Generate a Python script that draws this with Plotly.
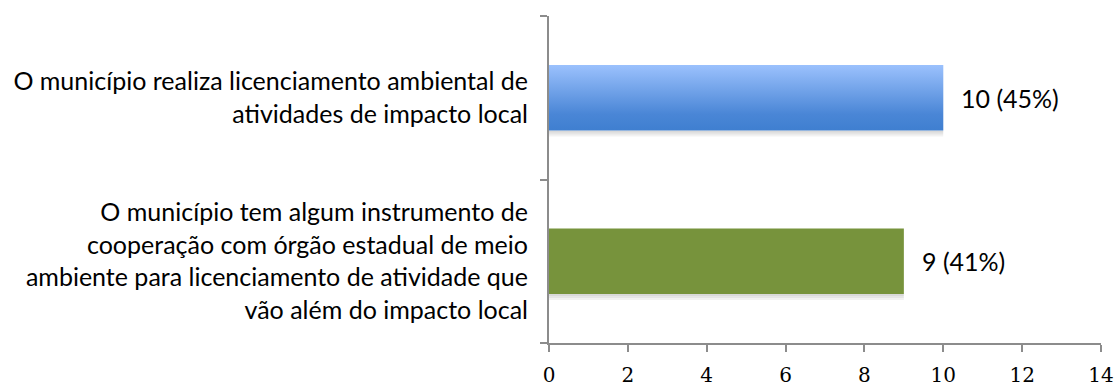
import plotly.graph_objects as go

# Survey items (bottom to top) and counts
categories = [
    "O município tem algum instrumento de<br>cooperação com órgão estadual de meio<br>ambiente para licenciamento de atividade que<br>vão além do impacto local",
    "O município realiza licenciamento ambiental de<br>atividades de impacto local",
]
counts = [9, 10]
value_labels = ["9 (41%)", "10 (45%)"]
x_ticks = [0, 2, 4, 6, 8, 10, 12, 14]

BAR_W = 0.4
LABEL_FONT = dict(family="Lato", size=25, color="#000000")
AXIS_COLOR = "#8c8c8c"

fig = go.Figure()

# Soft drop shadows under each bar (stacked translucent strips)
for i, v in enumerate(counts):
    for off in [2, 4, 6]:
        fig.add_shape(
            type="rect", xref="x", yref="y",
            x0=0, x1=v, ysizemode="pixel", yanchor=i - BAR_W / 2,
            y0=-off, y1=0, layer="below", line=dict(width=0),
            fillcolor="rgba(0,0,0,0.05)",
        )

# Green bar (cooperation instrument)
fig.add_trace(go.Bar(
    x=[counts[0]], y=[0], orientation="h", width=BAR_W,
    marker=dict(color="#77933C", line=dict(width=0)),
    hoverinfo="skip", showlegend=False,
))

# Blue bar with vertical gradient (local licensing)
yc = 1
fig.add_trace(go.Scatter(
    x=[0, counts[1], counts[1], 0, 0],
    y=[yc - BAR_W / 2, yc - BAR_W / 2, yc + BAR_W / 2, yc + BAR_W / 2, yc - BAR_W / 2],
    mode="lines", line=dict(width=0), fill="toself",
    fillgradient=dict(type="vertical",
                      colorscale=[[0, "#3F7FD0"], [0.25, "#4A86D6"], [1, "#9BC1FD"]]),
    hoverinfo="skip", showlegend=False,
))

# Value labels to the right of each bar
for i, (v, t) in enumerate(zip(counts, value_labels)):
    fig.add_annotation(x=v, y=i, text=t, showarrow=False, xanchor="left",
                       xshift=16, font=dict(family="Lato", size=25, color="#000000"))

fig.update_layout(
    width=1120, height=386,
    margin=dict(l=549, r=19, t=16, b=43),
    paper_bgcolor="white", plot_bgcolor="white",
    xaxis=dict(
        range=[0, 14], tickvals=x_ticks, ticktext=[str(t) for t in x_ticks],
        showgrid=False, zeroline=False, automargin=False,
        showline=True, linecolor=AXIS_COLOR, linewidth=2,
        ticks="outside", ticklen=7, tickwidth=2, tickcolor=AXIS_COLOR,
        tickfont=dict(family="DejaVu Serif", size=20, color="#000000"),
        ticklabelstandoff=6,
    ),
    yaxis=dict(
        range=[-0.5, 1.5], tickvals=[0, 1], ticktext=categories,
        showgrid=False, zeroline=False, automargin=False,
        showline=True, linecolor=AXIS_COLOR, linewidth=2,
        ticks="", ticklen=0,
        minor=dict(tickvals=[-0.5, 0.5, 1.5], ticks="outside", ticklen=7,
                   tickwidth=2, tickcolor=AXIS_COLOR, showgrid=False),
        tickfont=LABEL_FONT, ticklabelstandoff=14,
    ),
)

fig.write_html("out.html")
